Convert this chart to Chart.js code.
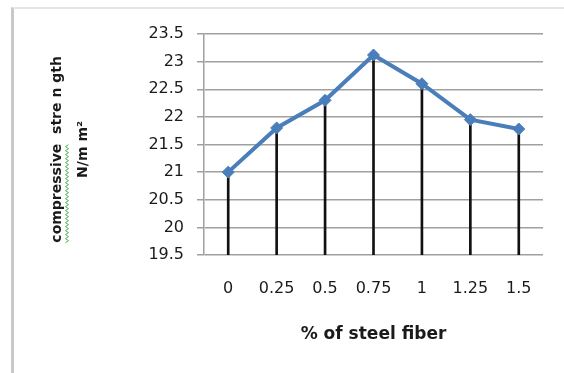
<!DOCTYPE html>
<html><head><meta charset="utf-8">
<script src="https://cdn.jsdelivr.net/npm/chart.js@4"></script>
<style>
html,body{margin:0;padding:0;background:#fff;}
#wrap{position:relative;width:564px;height:373px;overflow:hidden;background:#fff;}
#frame{position:absolute;left:11px;top:7px;right:0;bottom:0;border-left:3px solid #c8c8c8;border-top:2px solid #e4e4e4;}
canvas{position:absolute;left:0;top:0;}
</style></head><body>
<div id="wrap"><div id="frame"></div><canvas id="c" width="564" height="373"></canvas></div>
<script>
const fiberPercent = ['0', '0.25', '0.5', '0.75', '1', '1.25', '1.5'];
const compressiveStrength = [21.0, 21.8, 22.3, 23.12, 22.6, 21.95, 21.78];
const yTickLabels = ['19.5', '20', '20.5', '21', '21.5', '22', '22.5', '23', '23.5'];
const xTitle = '% of steel fiber';
const yTitle = ['compressive  stre n gth  ', 'N/m m\u00B2  '];

const BLUE = '#4a7ebb';
const GRID = '#a0a0a0';
const TXT = '#1a1a1a';
const Y_TITLE_SIZE = 14;
const titleFont = {family: 'DejaVu Sans', size: Y_TITLE_SIZE, weight: 'bold', lineHeight: 26 / Y_TITLE_SIZE};
const Y_TITLE_PAD = 29;

const squiggle = {
  id: 'squiggle',
  afterDraw(chart) {
    const s = chart.scales.y;
    const ctx = chart.ctx;
    ctx.save();
    ctx.font = 'bold ' + Y_TITLE_SIZE + 'px "DejaVu Sans"';
    const w = ctx.measureText(yTitle[0]).width;
    const wc = ctx.measureText('compressive').width;
    const cy = (s.top + s.bottom) / 2;
    const x = s.left + Y_TITLE_PAD + 13 + 10;
    const y0 = cy + w / 2, y1 = y0 - wc;
    ctx.strokeStyle = '#4cb04c';
    ctx.lineWidth = 1;
    ctx.beginPath();
    let k = 0;
    for (let y = y0; y >= y1; y -= 2, k++) {
      const xx = x + (k % 2 ? 1.5 : -1.5);
      if (k === 0) ctx.moveTo(xx, y); else ctx.lineTo(xx, y);
    }
    ctx.stroke();
    ctx.restore();
  }
};

new Chart(document.getElementById('c'), {
  data: {
    labels: fiberPercent,
    datasets: [
      {
        type: 'line',
        data: compressiveStrength,
        borderColor: BLUE,
        backgroundColor: BLUE,
        borderWidth: 4,
        pointStyle: 'rectRot',
        pointRadius: 6,
        pointBorderWidth: 1,
        pointBackgroundColor: BLUE,
        pointBorderColor: BLUE,
        tension: 0,
        order: 1
      },
      {
        type: 'bar',
        data: compressiveStrength,
        backgroundColor: '#111',
        barThickness: 2,
        order: 2
      }
    ]
  },
  options: {
    responsive: false,
    animation: false,
    devicePixelRatio: 1,
    layout: {padding: {left: 15, right: 21, top: 34, bottom: 0}},
    plugins: {legend: {display: false}, tooltip: {enabled: false}},
    scales: {
      x: {
        type: 'category',
        offset: true,
        grid: {display: false, drawTicks: false},
        border: {display: false},
        ticks: {color: TXT, font: {family: 'DejaVu Sans', size: 16}, padding: 24, maxRotation: 0, autoSkip: false},
        title: {display: true, text: xTitle, color: TXT, font: {family: 'DejaVu Sans', size: 17, weight: 'bold'}, padding: {top: 0, bottom: 28}},
        afterFit(scale) { scale.height = 118; }
      },
      y: {
        type: 'linear',
        min: 19.5,
        max: 23.5,
        ticks: {stepSize: 0.5, color: TXT, font: {family: 'DejaVu Sans', size: 16}, padding: 13,
          callback: (v, i) => yTickLabels[i]},
        grid: {color: GRID, lineWidth: 1.5, tickLength: 7, drawTicks: true},
        border: {display: true, color: GRID, width: 1.5},
        title: {display: true, text: yTitle, color: TXT, font: titleFont, padding: {top: Y_TITLE_PAD, bottom: 0}},
        afterFit(scale) { scale.width = 189; }
      }
    }
  },
  plugins: [squiggle]
});
</script>
</body></html>
